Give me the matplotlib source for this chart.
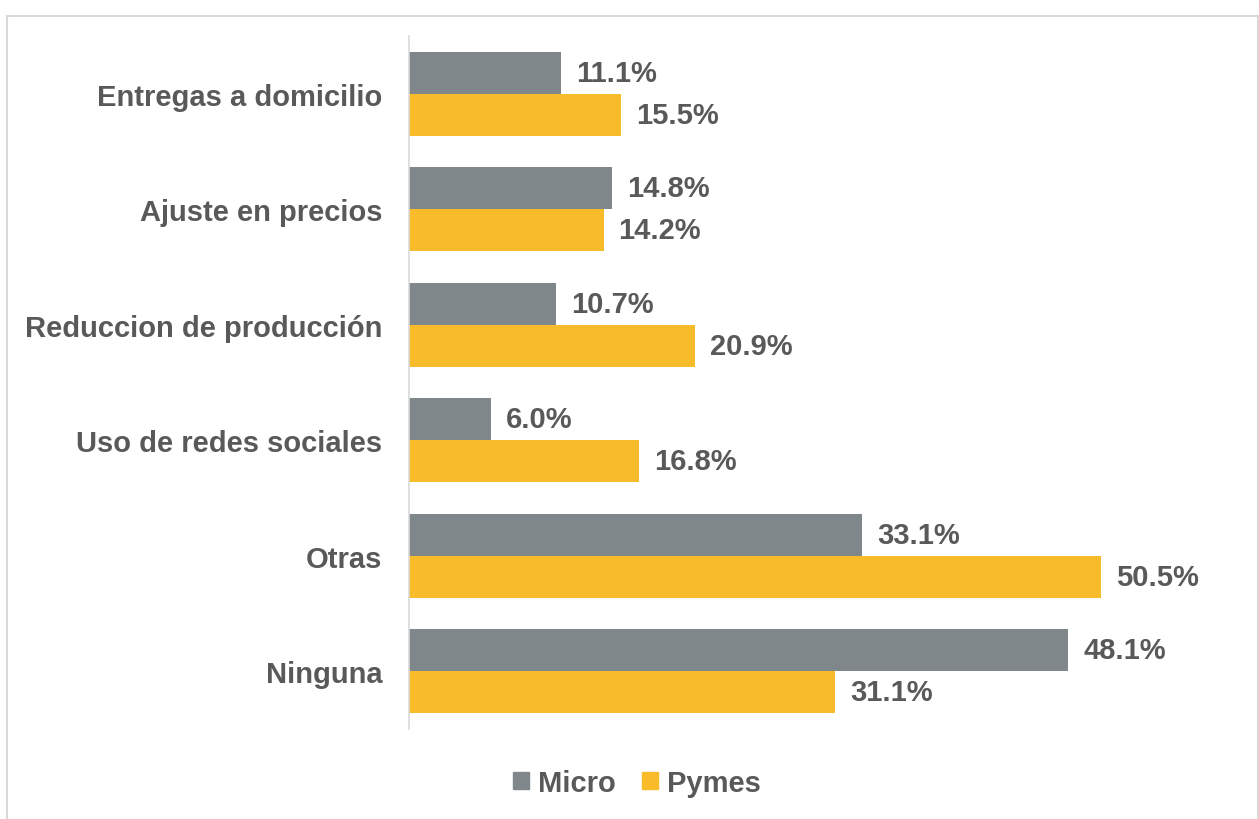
import numpy as np
import matplotlib.pyplot as plt
from matplotlib.patches import Rectangle, Patch

categories = ["Entregas a domicilio", "Ajuste en precios", "Reduccion de producción",
              "Uso de redes sociales", "Otras", "Ninguna"]
micro = [11.1, 14.8, 10.7, 6.0, 33.1, 48.1]
pymes = [15.5, 14.2, 20.9, 16.8, 50.5, 31.1]
series_names = ["Micro", "Pymes"]

GRAY = "#7f878b"
YELLOW = "#f8bb29"
TEXT = "#595959"
FS = 21

plt.rcParams["font.family"] = ["Liberation Sans", "DejaVu Sans"]
plt.rcParams["font.weight"] = "bold"

W, H = 1259, 820
fig = plt.figure(figsize=(W / 100, H / 100), dpi=100)
ax = fig.add_axes([409 / W, 1 - 730 / H, (1231 - 409) / W, (730 - 37) / H])

# chart-area border (top/left/right only visible)
fig.patches.append(Rectangle((6.5 / W, -0.05), (1257.5 - 6.5) / W, 1 - 16.5 / H + 0.05,
                             transform=fig.transFigure, fill=False,
                             ec="#d9d9d9", lw=1.5, zorder=0))

y = np.arange(len(categories))
h = 0.364
bm = ax.barh(y - h / 2, micro, height=h, color=GRAY)
bp = ax.barh(y + h / 2, pymes, height=h, color=YELLOW)

for bars, vals in ((bm, micro), (bp, pymes)):
    for b, v in zip(bars, vals):
        ax.text(b.get_width() + 1.1, b.get_y() + b.get_height() / 2, f"{v:.1f}%",
                va="center", ha="left", fontsize=FS, fontweight="bold", color=TEXT)

ax.set_xlim(0, 60)
ax.set_ylim(len(categories) - 0.5, -0.5)
ax.set_yticks(y)
ax.set_yticklabels(categories, fontsize=FS, fontweight="bold", color=TEXT)
ax.tick_params(axis="y", length=0, pad=19)
ax.set_xticks([])
for s in ("top", "right", "bottom"):
    ax.spines[s].set_visible(False)
ax.spines["left"].set_color("#d9d9d9")
ax.spines["left"].set_linewidth(1.2)

handles = [Patch(color=GRAY), Patch(color=YELLOW)]
fig.legend(handles, series_names, loc="center", bbox_to_anchor=(637 / W, 1 - 784 / H),
           ncol=2, frameon=False, prop={"size": FS, "weight": "bold"},
           labelcolor=TEXT, handlelength=0.55, handleheight=0.55,
           handletextpad=0.3, columnspacing=0.9)

fig.savefig("out.png", dpi=100)
